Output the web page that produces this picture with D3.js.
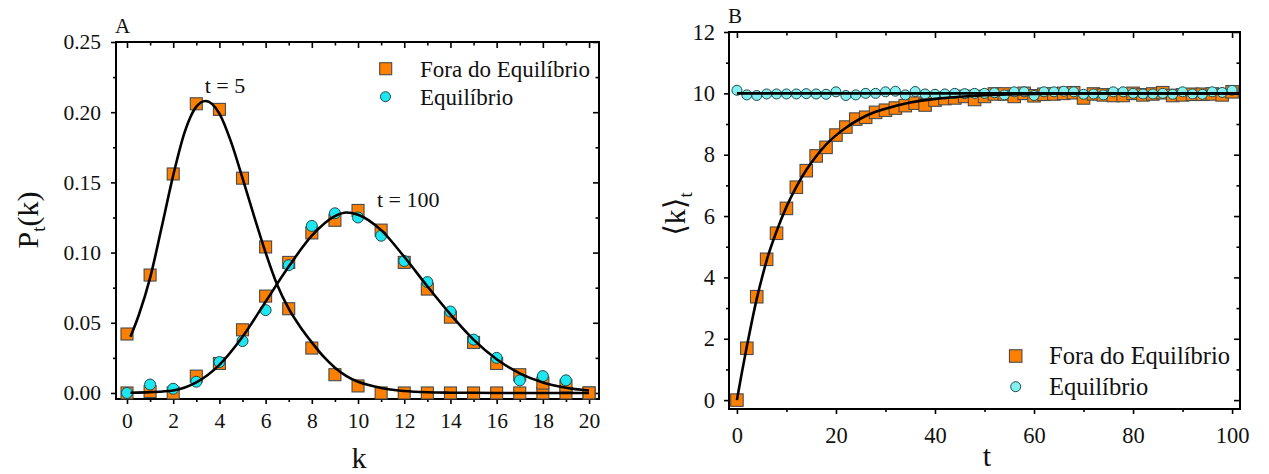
<!DOCTYPE html>
<html>
<head>
<meta charset="utf-8">
<script src="https://cdn.jsdelivr.net/npm/d3@7/dist/d3.min.js"></script>
<style>
  html, body { margin: 0; padding: 0; background: #fff; }
  svg { display: block; }
  svg text { font-family: "Liberation Serif", "Times New Roman", "DejaVu Serif", serif; }
</style>
</head>
<body>
<script>
// ---------------- DATA ----------------
// Panel A
const kValues = [0,1,2,3,4,5,6,7,8,9,10,11,12,13,14,15,16,17,18,19,20];
const pOutT5  = [0.042,0.084,0.156,0.206,0.202,0.153,0.104,0.060,0.032,0.013,0.005,0,0,0,0,0,0,0,0,0,0];
const pOutT100 = [0.000,0.001,0.000,0.012,0.021,0.045,0.069,0.093,0.114,0.123,0.130,0.116,0.093,0.074,0.054,0.036,0.021,0.013,0.007,0.005,0.000];
const kEqValues = [0,1,2,3,4,5,6,7,8,9,10,11,12,13,14,15,16,17,18,19];
const pEq = [0.000,0.006,0.003,0.008,0.022,0.037,0.059,0.091,0.119,0.128,0.125,0.112,0.094,0.079,0.058,0.038,0.025,0.009,0.012,0.009];
const fitKT5 = [0.15,0.5,1,1.5,2,2.5,3,3.4,4,4.5,5,5.5,6,6.5,7,7.5,8,8.5,9,9.5,10,10.5,11,12,13,14,15,16,17,18,19,20];
const fitT5  = [0.040,0.055,0.082,0.118,0.155,0.186,0.204,0.208,0.199,0.179,0.153,0.126,0.100,0.077,0.060,0.047,0.036,0.026,0.018,0.012,0.008,0.0055,0.0035,0.0014,0.0005,0.0002,0.0001,0,0,0,0,0];
const fitKT100 = [0.15,1,2,3,4,5,6,7,8,9,9.5,10,11,12,13,14,15,16,17,18,19,20];
const fitT100  = [0.0002,0.0006,0.0018,0.0075,0.020,0.040,0.065,0.090,0.112,0.126,0.1285,0.127,0.116,0.097,0.076,0.056,0.038,0.024,0.014,0.0075,0.0037,0.0017];
const xTicksA = [0,2,4,6,8,10,12,14,16,18,20];
const xMinorA = [1,3,5,7,9,11,13,15,17,19];
const yTicksA = [0,0.05,0.10,0.15,0.20,0.25];
const yMinorA = [0.025,0.075,0.125,0.175,0.225];

// Panel B
const tValues = [0,2,4,6,8,10,12,14,16,18,20,22,24,26,28,30,32,34,36,38,40,42,44,46,48,50,52,54,56,58,60,62,64,66,68,70,72,74,76,78,80,82,84,86,88,90,92,94,96,98,100];
const kOut = [0,1.69,3.37,4.59,5.44,6.25,6.94,7.48,7.96,8.24,8.64,8.90,9.16,9.22,9.38,9.45,9.52,9.60,9.68,9.62,9.78,9.83,9.85,9.90,9.80,9.90,9.98,9.98,9.90,10.00,9.92,9.97,9.98,10.00,10.02,9.85,9.98,9.95,9.93,9.93,10.00,9.95,9.98,10.02,9.93,9.95,9.97,9.97,9.98,9.95,10.05];
const kEq = [10.10,9.95,9.93,9.98,9.98,9.98,9.98,9.99,9.98,9.97,10.05,9.93,9.95,10.00,10.00,10.05,10.07,9.95,10.06,9.98,9.97,9.98,10.00,9.99,10.00,10.00,10.02,9.95,10.05,10.05,9.93,10.05,10.05,10.07,10.05,9.97,9.98,9.95,10.05,10.05,10.00,9.98,9.98,10.00,9.97,10.05,9.98,9.97,10.05,10.03,10.10];
const fitTB = [0,1,2,3,4,5,6,8,10,12,14,16,18,20,22,25,28,30,35,40,45,50,60,70,80,90,101.5];
const fitKB = [0,0.9,1.75,2.55,3.3,3.95,4.55,5.5,6.3,6.95,7.5,7.95,8.33,8.63,8.88,9.18,9.40,9.50,9.70,9.82,9.89,9.94,9.98,9.995,10,10,10];
const eqLineT = [0,101.5];
const eqLineK = [10,10];
const xTicksB = [0,20,40,60,80,100];
const xMinorB = [10,30,50,70,90];
const yTicksB = [0,2,4,6,8,10,12];
const yMinorB = [1,3,5,7,9,11];

const legendLabels = ["Fora do Equilíbrio", "Equilíbrio"];

// ---------------- STYLE ----------------
const FONT = "Liberation Serif, Times New Roman, DejaVu Serif, serif";
const ORANGE = "#ff8000";
const SQ_STROKE = "#4a4a4a";
const CYAN_A = "#1ee6f0";
const CYAN_B = "#82f0f0";
const CIRC_STROKE = "#1d4d50";

const svg = d3.select("body").append("svg")
  .attr("width", 1269).attr("height", 474)
  .style("font-family", FONT);

function drawAxes(g, x, y, o) {
  const [x0, x1] = x.range();
  const [y0, y1] = y.range(); // y0 bottom, y1 top
  const styleAxis = sel => {
    sel.select(".domain").remove();
    sel.attr("font-family", null).attr("font-size", o.fs);
    sel.selectAll("line").attr("stroke", "#000").attr("stroke-width", 1.6);
    sel.selectAll("text").attr("fill", "#111");
  };
  g.append("g").attr("transform", `translate(0,${y0})`)
    .call(d3.axisBottom(x).tickValues(o.xMaj).tickSize(5).tickPadding(o.xPad).tickFormat(o.xFmt).tickSizeOuter(0))
    .call(styleAxis);
  g.append("g").attr("transform", `translate(0,${y0})`)
    .call(d3.axisBottom(x).tickValues(o.xMin).tickSize(3).tickFormat("").tickSizeOuter(0))
    .call(styleAxis);
  g.append("g").attr("transform", `translate(0,${y1})`)
    .call(d3.axisTop(x).tickValues(o.xMaj).tickSize(-6).tickFormat("").tickSizeOuter(0))
    .call(styleAxis);
  g.append("g").attr("transform", `translate(0,${y1})`)
    .call(d3.axisTop(x).tickValues(o.xMin).tickSize(-3.5).tickFormat("").tickSizeOuter(0))
    .call(styleAxis);
  g.append("g").attr("transform", `translate(${x0},0)`)
    .call(d3.axisLeft(y).tickValues(o.yMaj).tickSize(5).tickPadding(o.yPad).tickFormat(o.yFmt).tickSizeOuter(0))
    .call(styleAxis);
  g.append("g").attr("transform", `translate(${x0},0)`)
    .call(d3.axisLeft(y).tickValues(o.yMin).tickSize(3).tickFormat("").tickSizeOuter(0))
    .call(styleAxis);
  g.append("g").attr("transform", `translate(${x1},0)`)
    .call(d3.axisRight(y).tickValues(o.yMaj).tickSize(-6).tickFormat("").tickSizeOuter(0))
    .call(styleAxis);
  g.append("g").attr("transform", `translate(${x1},0)`)
    .call(d3.axisRight(y).tickValues(o.yMin).tickSize(-3.5).tickFormat("").tickSizeOuter(0))
    .call(styleAxis);
  g.append("rect")
    .attr("x", x0).attr("y", y1).attr("width", x1 - x0).attr("height", y0 - y1)
    .attr("fill", "none").attr("stroke", "#000").attr("stroke-width", 2);
}

function squares(g, xs, ys, x, y, size, fill) {
  g.append("g").selectAll("rect").data(xs.map((d, i) => [d, ys[i]])).join("rect")
    .attr("x", d => x(d[0]) - size / 2).attr("y", d => y(d[1]) - size / 2)
    .attr("width", size).attr("height", size)
    .attr("fill", fill).attr("stroke", SQ_STROKE).attr("stroke-width", 1.1);
}
function circles(g, xs, ys, x, y, r, fill) {
  g.append("g").selectAll("circle").data(xs.map((d, i) => [d, ys[i]])).join("circle")
    .attr("cx", d => x(d[0])).attr("cy", d => y(d[1])).attr("r", r)
    .attr("fill", fill).attr("stroke", CIRC_STROKE).attr("stroke-width", 1);
}
function curve(g, xs, ys, x, y) {
  const line = d3.line().x(d => x(d[0])).y(d => y(d[1])).curve(d3.curveMonotoneX);
  g.append("path").attr("d", line(xs.map((d, i) => [d, ys[i]])))
    .attr("fill", "none").attr("stroke", "#000").attr("stroke-width", 2.6);
}

// ---------------- PANEL A ----------------
{
  const g = svg.append("g");
  const x = d3.scaleLinear().domain([-0.476, 20.43]).range([116, 599]);
  const y = d3.scaleLinear().domain([-0.0043, 0.25]).range([399, 42]);
  drawAxes(g, x, y, {
    xMaj: xTicksA, xMin: xMinorA, yMaj: yTicksA, yMin: yMinorA,
    xFmt: d3.format("d"), yFmt: d3.format(".2f"), xPad: 9, yPad: 10, fs: 21.5
  });
  squares(g, kValues, pOutT5, x, y, 12, ORANGE);
  squares(g, kValues, pOutT100, x, y, 12, ORANGE);
  circles(g, kEqValues, pEq, x, y, 5.5, CYAN_A);
  curve(g, fitKT5, fitT5, x, y);
  curve(g, fitKT100, fitT100, x, y);

  g.append("text").attr("x", x(4.24)).attr("y", y(0.2137)).attr("text-anchor", "middle")
    .attr("font-size", 22).attr("fill", "#111").text("t = 5");
  g.append("text").attr("x", x(10.82)).attr("y", y(0.1325)).attr("text-anchor", "start")
    .attr("font-size", 22).attr("fill", "#111").text("t = 100");

  g.append("text").attr("x", 115).attr("y", 33).attr("font-size", 21).attr("fill", "#111").text("A");

  g.append("text").attr("x", 359).attr("y", 468).attr("text-anchor", "middle")
    .attr("font-size", 30).attr("fill", "#111").text("k");
  const yt = g.append("text").attr("transform", "translate(38,220) rotate(-90)")
    .attr("text-anchor", "middle").attr("font-size", 30).attr("fill", "#111");
  yt.append("tspan").text("P");
  yt.append("tspan").attr("font-size", 19).attr("dy", "0.35em").text("t");
  yt.append("tspan").attr("dy", "-0.22em").text("(k)");

  g.append("rect").attr("x", 385.7 - 6).attr("y", 68.7 - 6).attr("width", 12).attr("height", 12)
    .attr("fill", ORANGE).attr("stroke", SQ_STROKE).attr("stroke-width", 1.1);
  g.append("text").attr("x", 420).attr("y", 76.7).attr("font-size", 23).attr("fill", "#111").text(legendLabels[0]);
  g.append("circle").attr("cx", 385.5).attr("cy", 96.7).attr("r", 5)
    .attr("fill", CYAN_A).attr("stroke", CIRC_STROKE).attr("stroke-width", 1);
  g.append("text").attr("x", 420).attr("y", 105).attr("font-size", 23).attr("fill", "#111").text(legendLabels[1]);
}

// ---------------- PANEL B ----------------
{
  const g = svg.append("g");
  const x = d3.scaleLinear().domain([-1.6, 101.6]).range([729, 1240]);
  const y = d3.scaleLinear().domain([-0.29, 12]).range([409, 32]);
  drawAxes(g, x, y, {
    xMaj: xTicksB, xMin: xMinorB, yMaj: yTicksB, yMin: yMinorB,
    xFmt: d3.format("d"), yFmt: d3.format("d"), xPad: 13, yPad: 9, fs: 22.5
  });
  squares(g, tValues, kOut, x, y, 12.5, ORANGE);
  circles(g, tValues, kEq, x, y, 5, CYAN_B);
  curve(g, eqLineT, eqLineK, x, y);
  curve(g, fitTB, fitKB, x, y);

  g.append("text").attr("x", 728).attr("y", 23).attr("font-size", 21).attr("fill", "#111").text("B");

  g.append("text").attr("x", 987).attr("y", 466).attr("text-anchor", "middle")
    .attr("font-size", 30).attr("fill", "#111").text("t");
  const yt = g.append("text").attr("transform", "translate(685,214) rotate(-90)")
    .attr("text-anchor", "middle").attr("font-size", 30).attr("fill", "#111");
  yt.append("tspan").text("\u27E8k\u27E9");
  yt.append("tspan").attr("font-size", 19).attr("dy", "0.35em").text("t");

  g.append("rect").attr("x", 1015.7 - 6.25).attr("y", 356 - 6.25).attr("width", 12.5).attr("height", 12.5)
    .attr("fill", ORANGE).attr("stroke", SQ_STROKE).attr("stroke-width", 1.1);
  g.append("text").attr("x", 1049).attr("y", 363.5).attr("font-size", 24.5).attr("fill", "#111").text(legendLabels[0]);
  g.append("circle").attr("cx", 1015.7).attr("cy", 386.7).attr("r", 5)
    .attr("fill", CYAN_B).attr("stroke", CIRC_STROKE).attr("stroke-width", 1);
  g.append("text").attr("x", 1049).attr("y", 394.5).attr("font-size", 24.5).attr("fill", "#111").text(legendLabels[1]);
}
</script>
</body>
</html>
